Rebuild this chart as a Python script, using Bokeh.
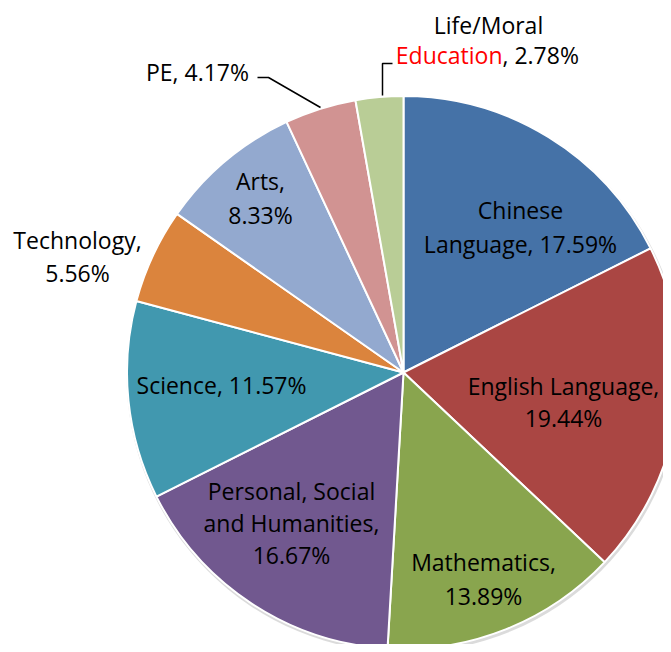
import math
from bokeh.plotting import figure
from bokeh.models import Range1d, ColumnDataSource
from bokeh.core.properties import value
from bokeh.embed import file_html
from bokeh.resources import INLINE

# ---- data ----
subjects = ["Chinese Language", "English Language", "Mathematics",
            "Personal, Social and Humanities", "Science", "Technology",
            "Arts", "PE", "Life/Moral Education"]
shares = [17.59, 19.44, 13.89, 16.67, 11.57, 5.56, 8.33, 4.17, 2.78]
colors = ["#4572A7", "#AA4643", "#89A54E", "#71588F", "#4198AF",
          "#DB843D", "#93A9CF", "#D19392", "#B9CD96"]

# label lines per slice (text pieces)
label_lines = [
    ["Chinese", "Language, 17.59%"],
    ["English Language,", "19.44%"],
    ["Mathematics,", "13.89%"],
    ["Personal, Social", "and Humanities,", "16.67%"],
    ["Science, 11.57%"],
    ["Technology,", "5.56%"],
    ["Arts,", "8.33%"],
    ["PE, 4.17%"],
    None,  # drawn separately (two colours)
]

# ---- layout (screen-pixel coordinates; y flipped) ----
W, H = 663, 644
TOP = 652
CX, CY, R = 403, TOP - 372, 276.5
FONT = "Open Sans"
FS = "23px"
YOFF = -8
# label first-line (x center, y baseline in screen coords, line spacing)
label_pos = [
    (520, 217, 34),
    (563, 393, 32),
    (483, 569, 34),
    (291, 498, 32),
    (221, 392, 32),
    (77, 247, 33),
    (260, 188, 34),
    (197, 79, 32),
    None,
]

p = figure(width=W, height=H, output_backend="svg", toolbar_location=None,
           x_range=Range1d(0, W), y_range=Range1d(TOP - H, TOP), min_border=0,
           outline_line_color=None, background_fill_color="white",
           border_fill_color="white")
p.axis.visible = False
p.grid.visible = False

# soft shadow
p.circle(x=[CX + 1], y=[CY - 2], radius=R + 1.5, fill_color="#b0b0b0",
         fill_alpha=0.45, line_color=None)

total = sum(shares)
starts, ends = [], []
cum = 0.0
for s in shares:
    starts.append(math.pi / 2 - 2 * math.pi * cum / total)
    cum += s
    ends.append(math.pi / 2 - 2 * math.pi * cum / total)

src = ColumnDataSource(dict(x=[CX] * len(shares), y=[CY] * len(shares),
                            start=starts, end=ends, color=colors))
p.wedge(x="x", y="y", radius=R, start_angle="start", end_angle="end",
        direction="clock", fill_color="color", line_color="white",
        line_width=2, source=src)

# labels
tx, ty, tt = [], [], []
for lines, pos in zip(label_lines, label_pos):
    if lines is None:
        continue
    x0, yb, dy = pos
    for i, t in enumerate(lines):
        tx.append(x0)
        ty.append(TOP - (yb + i * dy))
        tt.append(t)
p.text(x=tx, y=ty, text=tt, text_align="center", text_baseline="alphabetic",
       text_font=value(FONT), text_font_size=FS, text_color="#000000", y_offset=YOFF)

# Life/Moral Education label (outside)
p.text(x=[488], y=[TOP - 32], text=["Life/Moral"], text_align="center",
       text_baseline="alphabetic", text_font=value(FONT), text_font_size=FS,
       text_color="#000000", y_offset=YOFF)
p.text(x=[502], y=[TOP - 62], text=["Education"], text_align="right",
       text_baseline="alphabetic", text_font=value(FONT), text_font_size=FS,
       text_color="#FF0000", y_offset=YOFF)
p.text(x=[502], y=[TOP - 62], text=[", 2.78%"], text_align="left",
       text_baseline="alphabetic", text_font=value(FONT), text_font_size=FS,
       text_color="#000000", y_offset=YOFF)

# leader lines
p.line(x=[257, 268, 320], y=[TOP - 77, TOP - 77, TOP - 107], line_color="black", line_width=1.5)
p.line(x=[392, 382, 382], y=[TOP - 63, TOP - 63, TOP - 95], line_color="black", line_width=1.5)

open("out.html", "w").write(file_html(p, INLINE))
